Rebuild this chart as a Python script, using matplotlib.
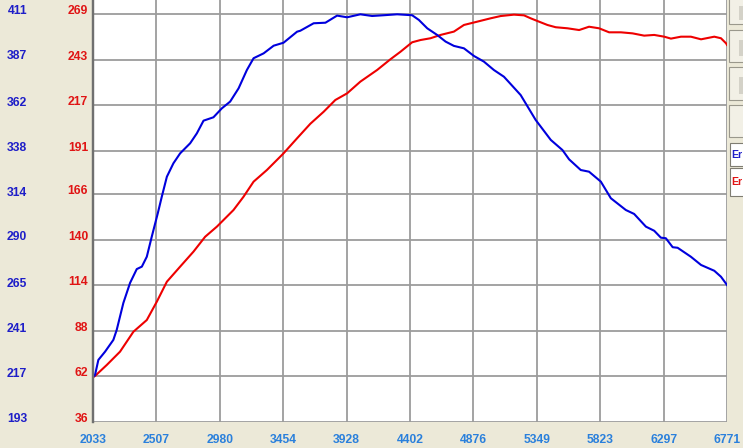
import matplotlib
matplotlib.use("Agg")
import matplotlib.pyplot as plt
from matplotlib.patches import Rectangle

# ---------------- data ----------------
rpm_ticks = [2033, 2507, 2980, 3454, 3928, 4402, 4876, 5349, 5823, 6297, 6771]
torque_ticks = [193, 217, 241, 265, 290, 314, 338, 362, 387, 411]
power_ticks = [36, 62, 88, 114, 140, 166, 191, 217, 243, 269]

torque_rpm = [2033, 2048, 2073, 2123, 2185, 2210, 2260, 2310, 2360, 2398, 2435,
              2472, 2517, 2547, 2585, 2634, 2684, 2759, 2809, 2859, 2933, 2996,
              3058, 3121, 3183, 3233, 3308, 3383, 3457, 3558, 3582, 3682, 3770,
              3857, 3932, 4031, 4119, 4206, 4306, 4418, 4468, 4531, 4606, 4668,
              4730, 4805, 4880, 4954, 5029, 5104, 5154, 5229, 5341, 5454, 5541,
              5591, 5678, 5740, 5828, 5903, 6015, 6077, 6165, 6227, 6277, 6314,
              6365, 6402, 6501, 6577, 6676, 6726, 6771]
torque = [217.0, 218.0, 226.1, 230.5, 236.8, 242.1, 256.6, 267.3, 274.7, 276.0, 281.3,
          292.0, 304.5, 313.4, 324.1, 331.3, 336.6, 342.0, 347.3, 354.1, 355.9, 360.7,
          364.3, 371.4, 381.2, 387.5, 390.1, 394.2, 395.8, 401.7, 402.2, 406.2, 406.5,
          410.3, 409.4, 411.0, 410.1, 410.5, 411.0, 410.5, 408.0, 403.5, 399.9, 396.4,
          394.1, 392.8, 388.7, 385.7, 381.2, 377.6, 373.7, 367.8, 354.5, 343.8, 338.4,
          333.4, 327.7, 326.8, 321.5, 312.6, 306.3, 304.2, 297.4, 295.2, 291.5, 291.2,
          286.4, 286.1, 281.3, 276.9, 273.8, 270.6, 266.2]

power_rpm = [2033, 2048, 2136, 2235, 2335, 2435, 2510, 2585, 2684, 2784, 2871, 2959,
             3083, 3158, 3233, 3333, 3457, 3558, 3657, 3757, 3844, 3932, 4031, 4157,
             4256, 4331, 4418, 4481, 4555, 4630, 4730, 4805, 4905, 5004, 5079, 5179,
             5254, 5304, 5366, 5429, 5491, 5579, 5666, 5740, 5815, 5890, 5978, 6065,
             6152, 6227, 6302, 6352, 6427, 6501, 6577, 6676, 6726, 6764, 6771]
power = [61.5, 62.2, 68.5, 76.1, 87.5, 94.2, 104.7, 116.1, 124.7, 133.3, 141.8, 147.6,
         157.1, 164.7, 173.3, 180.0, 189.5, 198.1, 206.4, 213.3, 220.0, 223.8, 230.5, 237.2,
         243.3, 247.6, 253.0, 254.3, 255.3, 257.2, 259.1, 262.9, 264.8, 266.7, 268.0, 268.8,
         268.4, 266.7, 264.8, 262.9, 261.6, 261.0, 260.0, 261.9, 261.0, 258.7, 258.7, 258.1,
         256.8, 257.2, 256.2, 255.1, 256.2, 256.2, 254.7, 256.2, 255.3, 252.4, 251.5]

# ---------------- style ----------------
BG = "#ECE9D8"
GRID = "#9C9C9C"
BLUE_LINE = "#0000DD"
RED_LINE = "#EE0000"
BLUE_TXT = "#1E1EC8"
RED_TXT = "#E01414"
X_TXT = "#2A80DC"
FONT = "Liberation Sans"
FS = 8.7

W, H = 743, 448
fig = plt.figure(figsize=(W / 100, H / 100), dpi=100, facecolor=BG)

ax_left, ax_right, ax_bottom_px = 93, 727, 421.8
ax = fig.add_axes([ax_left / W, (H - ax_bottom_px) / H,
                   (ax_right - ax_left) / W, ax_bottom_px / H])
ax.set_facecolor("white")

# y limits: bottom tick at bottom edge, top tick 14.3 px below top edge
span_px = ax_bottom_px - 14.3
frac_top = ax_bottom_px / span_px
p_lo, p_hi = power_ticks[0], power_ticks[-1]
t_lo, t_hi = torque_ticks[0], torque_ticks[-1]
ax.set_ylim(p_lo, p_lo + (p_hi - p_lo) * frac_top)
ax.set_xlim(rpm_ticks[0], rpm_ticks[-1])

ax2 = ax.twinx()
ax2.set_ylim(t_lo, t_lo + (t_hi - t_lo) * frac_top)
ax2.set_xlim(rpm_ticks[0], rpm_ticks[-1])

# grid from red (power) axis
ax.set_xticks(rpm_ticks)
ax.set_yticks(power_ticks)
ax.grid(True, color=GRID, lw=1.3)
ax.set_axisbelow(True)

ax.set_xticklabels([str(v) for v in rpm_ticks], fontfamily=FONT, fontsize=FS,
                   fontweight="bold", color=X_TXT)
ax.set_yticklabels([str(v) for v in power_ticks], fontfamily=FONT, fontsize=FS,
                   fontweight="bold", color=RED_TXT)
ax.tick_params(axis="x", length=0, pad=9.0)
ax.tick_params(axis="y", length=0, pad=3.5)
for lab in ax.get_yticklabels():
    lab.set_va("baseline")

ax2.set_yticks(torque_ticks)
ax2.yaxis.tick_left()
ax2.set_yticklabels([str(v) for v in torque_ticks], fontfamily=FONT, fontsize=FS,
                    fontweight="bold", color=BLUE_TXT)
ax2.tick_params(axis="y", length=0, pad=47.5, left=False, right=False,
                labelleft=True, labelright=False)
for lab in ax2.get_yticklabels():
    lab.set_va("baseline")

for a in (ax, ax2):
    for s in ("top", "right", "bottom"):
        a.spines[s].set_visible(False)
    a.spines["left"].set_color("#707070")
    a.spines["left"].set_linewidth(1.6)
ax2.patch.set_visible(False)

ax.plot(power_rpm, power, color=RED_LINE, lw=1.5, solid_joinstyle="round")
ax2.plot(torque_rpm, torque, color=BLUE_LINE, lw=1.5, solid_joinstyle="round")

# ---------------- right-hand control panel (decoration) ----------------
def frect(x0, y0, x1, y1, **kw):
    fig.patches.append(Rectangle((x0 / W, 1 - y1 / H), (x1 - x0) / W, (y1 - y0) / H,
                                 transform=fig.transFigure, **kw))

for (y0, y1) in [(-2, 24), (30, 62), (67, 100), (105, 137)]:
    frect(729, y0, 745, y1, facecolor="#F2F0E6", edgecolor="#9A988C", lw=0.8)
for (y0, y1) in [(6, 20), (40, 56), (77, 94)]:
    frect(739, y0, 745, y1, facecolor="#D4D2C8", edgecolor="none")
for (y0, y1, col) in [(143, 166, BLUE_TXT), (168, 196, RED_TXT)]:
    frect(730, y0, 745, y1, facecolor="white", edgecolor="#7F7D72", lw=0.8)
    fig.text(731.5 / W, 1 - ((y0 + y1) / 2) / H, "Er", color=col, fontfamily=FONT,
             fontsize=7.5, fontweight="bold", va="center", ha="left")

fig.savefig("out.png", dpi=100, facecolor=BG)
